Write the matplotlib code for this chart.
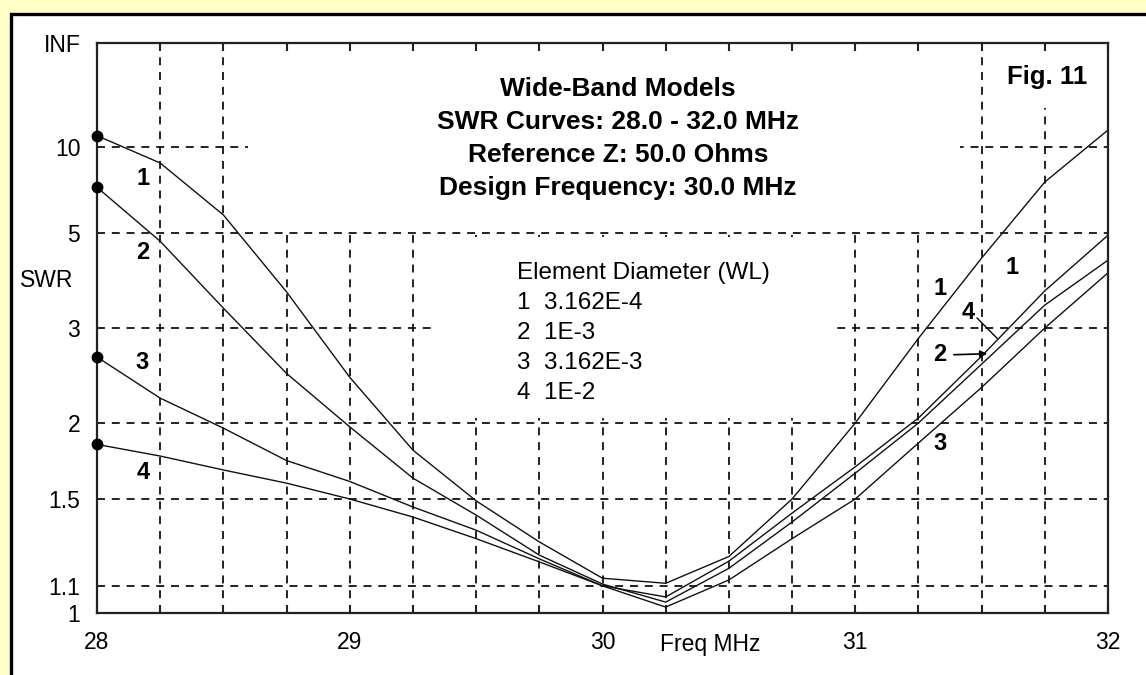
import numpy as np
import matplotlib.pyplot as plt
from matplotlib.patches import Rectangle

plt.rcParams['font.family'] = ['Liberation Sans', 'DejaVu Sans']

# frequency points (MHz)
freq = [28.0, 28.25, 28.5, 28.75, 29.0, 29.25, 29.5, 29.75, 30.0,
        30.25, 30.5, 30.75, 31.0, 31.25, 31.5, 31.75, 32.0]

# SWR curves, one per element diameter
swr1 = [11.3, 8.5, 5.63, 3.58, 2.41, 1.80, 1.49, 1.285, 1.13,
        1.11, 1.22, 1.5, 2.0, 2.86, 4.3, 7.2, 12.1]
swr2 = [6.9, 4.75, 3.3, 2.45, 1.97, 1.62, 1.415, 1.226, 1.107,
        1.039, 1.17, 1.38, 1.65, 2.0, 2.55, 3.35, 4.25]
swr3 = [2.63, 2.21, 1.96, 1.73, 1.60, 1.457, 1.34, 1.21, 1.10,
        1.021, 1.123, 1.30, 1.5, 1.85, 2.31, 3.0, 3.96]
swr4 = [1.84, 1.76, 1.67, 1.59, 1.5, 1.405, 1.30, 1.197, 1.10,
        1.058, 1.20, 1.425, 1.69, 2.04, 2.64, 3.6, 4.93]

x_major = [28, 29, 30, 31, 32]
x_minor = [28.25, 28.5, 28.75, 29.25, 29.5, 29.75, 30.25, 30.5, 30.75,
           31.25, 31.5, 31.75]
y_ticks = [1, 1.1, 1.5, 2, 3, 5, 10, 1e9]
y_labels = ['1', '1.1', '1.5', '2', '3', '5', '10', 'INF']

title_lines = ['Wide-Band Models', 'SWR Curves: 28.0 - 32.0 MHz',
               'Reference Z: 50.0 Ohms', 'Design Frequency: 30.0 MHz']
legend_lines = ['Element Diameter (WL)', '1  3.162E-4', '2  1E-3',
                '3  3.162E-3', '4  1E-2']


# SWR axis is linear in reflection coefficient
def to_rho(s):
    s = np.asarray(s, dtype=float)
    with np.errstate(divide='ignore', invalid='ignore'):
        r = (s - 1) / (s + 1)
    return np.where(np.isinf(s), 1.0, r)


def from_rho(r):
    r = np.asarray(r, dtype=float)
    with np.errstate(divide='ignore', invalid='ignore'):
        return (1 + r) / (1 - r)


fig = plt.figure(figsize=(11.46, 6.75), dpi=100)
fig.patch.set_facecolor('#FFFFC8')
fig.patches.append(Rectangle((10.5 / 1146, -0.1), 1.2, 1 - 14 / 675 + 0.1,
                             transform=fig.transFigure, facecolor='white',
                             edgecolor='black', lw=2.4, zorder=-1))

ax = fig.add_axes([97 / 1146, 1 - 613 / 675, 1011 / 1146, 570 / 675])
ax.set_facecolor('none')
ax.set_yscale('function', functions=(to_rho, from_rho))
ax.set_xlim(28, 32)
ax.set_ylim(1, 1e9)

# dashed grid
for x in x_minor + x_major[1:-1]:
    ax.axvline(x, color='#111111', lw=1.3, ls=(0, (4.4, 3.8)), zorder=0.5)
for y in y_ticks[1:-1]:
    ax.axhline(y, color='#111111', lw=1.3, ls=(0, (4.4, 3.8)), zorder=0.5)

# white blocks behind the text (they hide the grid there)
xax = ax.get_xaxis_transform()
ax.add_patch(Rectangle((28.597, 0.672), 31.414 - 28.597, 0.33, transform=xax,
                       facecolor='white', edgecolor='none', zorder=1))
ax.add_patch(Rectangle((31.553, 0.886), 31.968 - 31.553, 0.12, transform=xax,
                       facecolor='white', edgecolor='none', zorder=1))
ax.add_patch(Rectangle((29.333, 0.342), 30.92 - 29.333, 0.318, transform=xax,
                       facecolor='white', edgecolor='none', zorder=1))

for s in [swr1, swr2, swr3, swr4]:
    ax.plot(freq, s, color='#111111', lw=1.0, zorder=2)
    ax.plot(freq[0], s[0], 'o', color='black', ms=7.5, clip_on=False, zorder=3)

for sp in ax.spines.values():
    sp.set_linewidth(1.6)
    sp.set_color('#222222')

ax.set_xticks(x_major)
ax.set_xticklabels([str(v) for v in x_major])
ax.set_xticks(x_minor, minor=True)
ax.tick_params(axis='x', which='both', direction='in', length=6, width=1.5,
               top=True, bottom=True, labelsize=16.5, pad=13, color='#222222')
ax.set_yticks(y_ticks)
ax.set_yticklabels(y_labels)
ax.tick_params(axis='y', which='both', length=0, labelsize=16.5, pad=12)

ax.text(-0.0495, 0.584, 'SWR', transform=ax.transAxes, fontsize=16.5,
        ha='center', va='center')
ax.text(30.228, -0.055, 'Freq MHz', transform=xax, fontsize=16.5,
        ha='left', va='center')

# title block
for i, line in enumerate(title_lines):
    ax.text(30.061, 0.919 - i * 0.0578, line, transform=xax, fontsize=19,
            fontweight='bold', ha='center', va='center', zorder=4)
ax.text(31.759, 0.940, 'Fig. 11', transform=xax, fontsize=18.5,
        fontweight='bold', ha='center', va='center', zorder=4)

# legend block
for i, line in enumerate(legend_lines):
    ax.text(29.662, 0.596 - i * 0.0526, line, transform=xax, fontsize=17.5,
            ha='left', va='center', zorder=4)

# curve numbers
curve_tags = [('1', 28.182, 0.763), ('2', 28.182, 0.632), ('3', 28.178, 0.439),
              ('4', 28.182, 0.247), ('1', 31.335, 0.570), ('1', 31.62, 0.607),
              ('4', 31.446, 0.528), ('2', 31.335, 0.453), ('3', 31.335, 0.298)]
for t, x, y in curve_tags:
    ax.text(x, y, t, transform=xax, fontsize=17, fontweight='bold',
            ha='center', va='center', zorder=4)

ax.annotate('', xy=(31.533, 0.455), xytext=(31.379, 0.453),
            xycoords=xax, textcoords=xax,
            arrowprops=dict(arrowstyle='-|>', color='black', lw=1.2,
                            mutation_scale=10))
ax.plot([31.482, 31.561], [0.5175, 0.482], color='black', lw=1.0,
        transform=xax, zorder=4)

fig.savefig('out.png', dpi=100)
